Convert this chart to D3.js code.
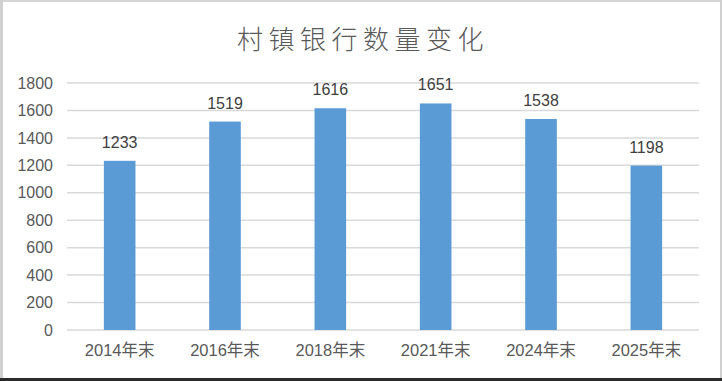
<!DOCTYPE html>
<html>
<head>
<meta charset="utf-8">
<script src="https://cdn.jsdelivr.net/npm/d3@7"></script>
<style>
  html, body { margin: 0; padding: 0; background: #fff; }
  svg { display: block; }
</style>
</head>
<body>
<svg id="chart" width="722" height="381"></svg>
<script>
// chart data
var categories = ["2014年末", "2016年末", "2018年末", "2021年末", "2024年末", "2025年末"];
var values = [1233, 1519, 1616, 1651, 1538, 1198];
var yTicks = [0, 200, 400, 600, 800, 1000, 1200, 1400, 1600, 1800];
var szTitle = "村镇银行数量变化";

var W = 722, H = 381;
var margin = {left: 67, right: 23, top: 83, bottom: 51};

var svg = d3.select("#chart");
var szFont = "'Liberation Sans', Arial, 'Noto Sans CJK SC', sans-serif";

// outer frame like the office export
svg.append("rect").attr("x", 0).attr("y", 0).attr("width", W).attr("height", 2).attr("fill", "#d6d6d6");
svg.append("rect").attr("x", 0).attr("y", 0).attr("width", 3).attr("height", H).attr("fill", "#d0d0d0");
svg.append("rect").attr("x", W - 2).attr("y", 0).attr("width", 2).attr("height", H).attr("fill", "#d0d0d0");
svg.append("rect").attr("x", 0).attr("y", H - 3).attr("width", W).attr("height", 3).attr("fill", "#2b2b2b");

var x = d3.scaleBand()
  .domain(categories)
  .range([margin.left, W - margin.right])
  .paddingInner(0.7)
  .paddingOuter(0.35);

var y = d3.scaleLinear()
  .domain([0, 1800])
  .range([H - margin.bottom, margin.top]);

// gridlines
svg.append("g")
  .selectAll("line")
  .data(yTicks)
  .join("line")
  .attr("x1", margin.left)
  .attr("x2", W - margin.right)
  .attr("y1", function(d){ return y(d); })
  .attr("y2", function(d){ return y(d); })
  .attr("stroke", "#d9d9d9")
  .attr("stroke-width", 1.5);

// y axis labels
var yAxis = d3.axisLeft(y).tickValues(yTicks).tickFormat(d3.format("d")).tickSize(0).tickPadding(14);
var gy = svg.append("g")
  .attr("transform", "translate(" + margin.left + ",0)")
  .call(yAxis);
gy.select(".domain").remove();
gy.selectAll("text")
  .attr("fill", "#595959")
  .style("font-family", szFont)
  .style("font-size", "16px");

// x axis labels
var xAxis = d3.axisBottom(x).tickSize(0).tickPadding(14);
var gx = svg.append("g")
  .attr("transform", "translate(0," + (H - margin.bottom) + ")")
  .call(xAxis);
gx.select(".domain").remove();
gx.selectAll("text")
  .attr("fill", "#595959")
  .style("font-family", szFont)
  .style("font-size", "16.5px");

// bars
svg.append("g")
  .selectAll("rect")
  .data(values)
  .join("rect")
  .attr("x", function(d, i){ return x(categories[i]); })
  .attr("width", x.bandwidth())
  .attr("y", function(d){ return y(d); })
  .attr("height", function(d){ return y(0) - y(d); })
  .attr("fill", "#5b9bd5");

// value labels
svg.append("g")
  .selectAll("text")
  .data(values)
  .join("text")
  .attr("x", function(d, i){ return x(categories[i]) + x.bandwidth() / 2; })
  .attr("y", function(d){ return y(d) - 13; })
  .attr("text-anchor", "middle")
  .attr("fill", "#404040")
  .style("font-family", szFont)
  .style("font-size", "16px")
  .text(function(d){ return d; });

// title
svg.append("text")
  .attr("x", W / 2 + 2)
  .attr("y", 49)
  .attr("text-anchor", "middle")
  .attr("fill", "#595959")
  .style("font-family", "'Noto Sans CJK SC', sans-serif")
  .style("font-size", "26px")
  .style("font-weight", "300")
  .style("letter-spacing", "5.5px")
  .text(szTitle);
</script>
</body>
</html>
